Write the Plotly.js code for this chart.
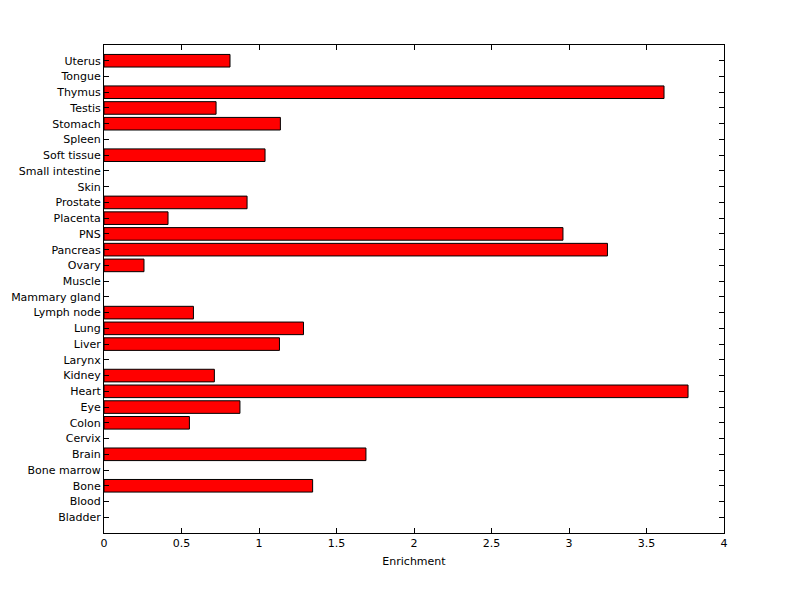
<!DOCTYPE html>
<html>
<head>
<meta charset="utf-8">
<script src="https://cdn.plot.ly/plotly-3.0.1.min.js"></script>
<style>body{margin:0;padding:0;background:#fff;}#chart{width:800px;height:599px;}</style>
</head>
<body>
<div id="chart"></div>
<script>
var tissues = ["Bladder","Blood","Bone","Bone marrow","Brain","Cervix","Colon","Eye","Heart","Kidney","Larynx","Liver","Lung","Lymph node","Mammary gland","Muscle","Ovary","Pancreas","PNS","Placenta","Prostate","Skin","Small intestine","Soft tissue","Spleen","Stomach","Testis","Thymus","Tongue","Uterus"];
var enrichment = [0,0,1.346,0,1.69,0,0.551,0.877,3.768,0.712,0,1.132,1.287,0.577,0,0,0.258,3.248,2.961,0.413,0.923,0,0,1.039,0,1.138,0.723,3.613,0,0.813];
var xTicks = [0,0.5,1,1.5,2,2.5,3,3.5,4];
var xTickText = ["0","0.5","1","1.5","2","2.5","3","3.5","4"];

var trace = {
  type: 'bar',
  orientation: 'h',
  x: enrichment,
  y: tissues.map(function(_, i){ return i; }),
  width: 0.8,
  marker: {
    color: '#ff0000',
    opacity: enrichment.map(function(v){ return v > 0 ? 1 : 0; }),
    line: {color: '#000000', width: enrichment.map(function(v){ return v > 0 ? 1 : 0; })}
  },
  hoverinfo: 'x+text',
  text: tissues,
  textposition: 'none'
};

var layout = {
  width: 800,
  height: 599,
  margin: {l: 104, r: 76, t: 45, b: 66, pad: 0},
  paper_bgcolor: '#ffffff',
  plot_bgcolor: '#ffffff',
  showlegend: false,
  font: {family: 'DejaVu Sans, Liberation Sans, sans-serif', size: 11, color: '#000000'},
  xaxis: {
    range: [0, 4],
    tickvals: xTicks,
    ticktext: xTickText,
    ticks: 'inside',
    ticklen: 5,
    tickcolor: '#000',
    showline: true,
    linecolor: '#000',
    linewidth: 1,
    mirror: 'ticks',
    showgrid: false,
    zeroline: false,
    title: {text: 'Enrichment', font: {size: 11}, standoff: 8},
    fixedrange: true
  },
  yaxis: {
    range: [-1, 30],
    tickvals: tissues.map(function(_, i){ return i; }),
    ticktext: tissues,
    ticks: 'inside',
    ticklen: 5,
    tickcolor: '#000',
    showline: true,
    linecolor: '#000',
    linewidth: 1,
    mirror: 'ticks',
    showgrid: false,
    zeroline: false,
    fixedrange: true
  }
};

Plotly.newPlot('chart', [trace], layout, {displayModeBar: false, staticPlot: true});
</script>
</body>
</html>
